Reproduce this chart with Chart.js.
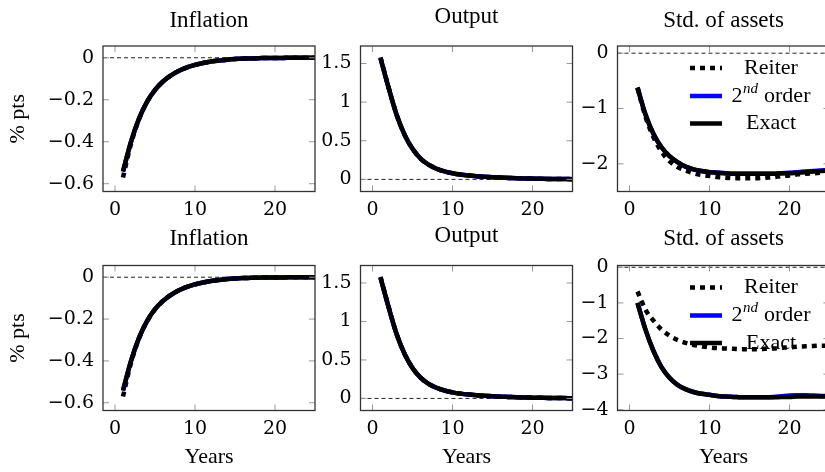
<!DOCTYPE html>
<html>
<head>
<meta charset="utf-8">
<script src="https://cdn.jsdelivr.net/npm/chart.js@4"></script>
<style>
html, body { margin: 0; padding: 0; background: #fff; width: 825px; height: 472px; overflow: hidden; }
canvas { position: absolute; }
</style>
</head>
<body>
<canvas id="c0" width="318" height="225" style="left:0;top:0"></canvas>
<canvas id="c1" width="257" height="225" style="left:318px;top:0"></canvas>
<canvas id="c2" width="260" height="225" style="left:575px;top:0"></canvas>
<canvas id="c3" width="318" height="254" style="left:0;top:218px"></canvas>
<canvas id="c4" width="257" height="254" style="left:318px;top:218px"></canvas>
<canvas id="c5" width="260" height="254" style="left:575px;top:218px"></canvas>
<script>
// horizon in years
const years = [1, 2, 3, 4, 5, 6, 7, 8, 9, 10, 11, 12, 13, 14, 15, 16, 17, 18, 19, 20, 21, 22, 23, 24, 25];
const xTicks = [0, 10, 20];

const inflationReiter = [-0.57, -0.41, -0.293, -0.211, -0.154, -0.113, -0.084, -0.062, -0.046, -0.034, -0.025, -0.018, -0.013, -0.009, -0.006, -0.004, -0.003, -0.002, -0.001, -0.001, -0.001, 0, 0, 0, 0];
const inflationSecond = [-0.543, -0.401, -0.29, -0.21, -0.153, -0.113, -0.084, -0.062, -0.046, -0.034, -0.025, -0.018, -0.013, -0.009, -0.006, -0.004, -0.003, -0.002, -0.001, -0.001, -0.001, 0, 0, 0, 0];
const inflationExact = [-0.54, -0.40, -0.29, -0.21, -0.153, -0.113, -0.084, -0.062, -0.046, -0.034, -0.025, -0.018, -0.013, -0.009, -0.006, -0.004, -0.003, -0.002, -0.001, -0.001, -0.001, 0, 0, 0, 0];
const inflationTicks = [0, -0.2, -0.4, -0.6];

const outputReiter = [1.58, 1.195, 0.842, 0.58, 0.395, 0.27, 0.19, 0.138, 0.103, 0.079, 0.062, 0.05, 0.041, 0.034, 0.028, 0.023, 0.019, 0.015, 0.012, 0.01, 0.008, 0.006, 0.005, 0.004, 0.003];
const outputSecond = [1.57, 1.19, 0.84, 0.58, 0.395, 0.27, 0.19, 0.138, 0.103, 0.079, 0.062, 0.05, 0.041, 0.034, 0.028, 0.023, 0.019, 0.015, 0.012, 0.01, 0.008, 0.006, 0.005, 0.004, 0.003];
const outputExact = [1.57, 1.19, 0.84, 0.58, 0.395, 0.27, 0.19, 0.138, 0.103, 0.079, 0.062, 0.05, 0.041, 0.034, 0.028, 0.023, 0.019, 0.015, 0.012, 0.01, 0.008, 0.006, 0.005, 0.004, 0.003];
const outputTicks = [0, 0.5, 1, 1.5];

const assetsReiterTop = [-0.63, -1.15, -1.52, -1.78, -1.95, -2.06, -2.12, -2.17, -2.2, -2.22, -2.24, -2.25, -2.26, -2.26, -2.26, -2.26, -2.25, -2.24, -2.22, -2.21, -2.19, -2.18, -2.17, -2.16, -2.15];
const assetsSecondTop = [-0.62, -1.11, -1.46, -1.7, -1.86, -1.97, -2.05, -2.1, -2.13, -2.15, -2.16, -2.17, -2.18, -2.18, -2.18, -2.18, -2.18, -2.18, -2.17, -2.16, -2.15, -2.14, -2.13, -2.12, -2.11];
const assetsExactTop = [-0.62, -1.11, -1.46, -1.7, -1.86, -1.97, -2.05, -2.1, -2.13, -2.15, -2.16, -2.17, -2.18, -2.18, -2.18, -2.18, -2.18, -2.18, -2.17, -2.17, -2.16, -2.15, -2.14, -2.13, -2.12];
const assetsTicksTop = [0, -1, -2];

const assetsReiterBottom = [-0.68, -1.19, -1.5, -1.75, -1.92, -2.04, -2.12, -2.18, -2.22, -2.25, -2.27, -2.28, -2.29, -2.3, -2.3, -2.3, -2.29, -2.28, -2.26, -2.25, -2.23, -2.22, -2.21, -2.2, -2.2];
const assetsSecondBottom = [-1.0, -1.75, -2.35, -2.8, -3.1, -3.3, -3.42, -3.5, -3.55, -3.58, -3.61, -3.63, -3.64, -3.65, -3.65, -3.65, -3.65, -3.64, -3.62, -3.6, -3.59, -3.59, -3.6, -3.61, -3.62];
const assetsExactBottom = [-1.0, -1.75, -2.35, -2.8, -3.1, -3.3, -3.42, -3.5, -3.55, -3.58, -3.61, -3.63, -3.64, -3.65, -3.65, -3.65, -3.65, -3.65, -3.64, -3.64, -3.63, -3.63, -3.63, -3.63, -3.63];
const assetsTicksBottom = [0, -1, -2, -3, -4];

const seriesNames = ['Reiter', '2nd order', 'Exact'];

const serif = 'Liberation Serif';
const tickFont = { family: 'DejaVu Serif', size: 19 };

// zero reference line under the data, inward ticks, a box around the plot and the panel title
const framePlugin = {
    id: 'frame',
    beforeDatasetsDraw(chart) {
        const { ctx, chartArea: a, scales: { y } } = chart;
        const y0 = y.getPixelForValue(0);
        ctx.save();
        ctx.strokeStyle = '#222';
        ctx.lineWidth = 1;
        ctx.setLineDash([4, 3]);
        ctx.beginPath();
        ctx.moveTo(a.left, y0);
        ctx.lineTo(a.right, y0);
        ctx.stroke();
        ctx.restore();
    },
    afterDatasetsDraw(chart, args, opts) {
        const { ctx, chartArea: a, scales: { x, y } } = chart;
        ctx.save();
        ctx.strokeStyle = '#999';
        ctx.lineWidth = 1;
        ctx.beginPath();
        x.ticks.forEach(t => {
            const px = x.getPixelForValue(t.value);
            ctx.moveTo(px, a.bottom); ctx.lineTo(px, a.bottom - 6);
            ctx.moveTo(px, a.top); ctx.lineTo(px, a.top + 6);
        });
        y.ticks.forEach(t => {
            const py = y.getPixelForValue(t.value);
            ctx.moveTo(a.left, py); ctx.lineTo(a.left + 6, py);
            ctx.moveTo(a.right, py); ctx.lineTo(a.right - 6, py);
        });
        ctx.stroke();
        ctx.strokeStyle = '#333';
        ctx.lineWidth = 1.3;
        ctx.strokeRect(a.left, a.top, a.right - a.left, a.bottom - a.top);

        ctx.fillStyle = '#000';
        ctx.font = '23px ' + serif;
        ctx.textAlign = 'center';
        ctx.textBaseline = 'alphabetic';
        ctx.fillText(opts.text, (a.left + a.right) / 2, opts.baseline);
        ctx.restore();
    }
};

// legend in the pgfplots style, with a superscript in "2nd order"
const legendPlugin = {
    id: 'pgfLegend',
    afterDraw(chart) {
        const { ctx, chartArea: a } = chart;
        const rows = [22, 50, 77.5];
        ctx.save();
        chart.data.datasets.forEach((ds, i) => {
            const ry = a.top + rows[i];
            ctx.strokeStyle = ds.borderColor;
            ctx.lineWidth = ds.borderWidth;
            ctx.setLineDash(ds.borderDash || []);
            ctx.beginPath();
            ctx.moveTo(a.right - 139.5, ry);
            ctx.lineTo(a.right - 107.5, ry);
            ctx.stroke();
            ctx.setLineDash([]);
            ctx.fillStyle = '#000';
            ctx.textBaseline = 'middle';
            const cx = a.right - 58.5;
            if (ds.label === '2nd order') {
                ctx.font = '22px ' + serif;
                const w1 = ctx.measureText('2').width;
                const w3 = ctx.measureText(' order').width;
                ctx.font = 'italic 15px ' + serif;
                const w2 = ctx.measureText('nd').width + 1;
                const sx = cx - (w1 + w2 + w3) / 2;
                ctx.textAlign = 'left';
                ctx.font = '22px ' + serif;
                ctx.fillText('2', sx, ry);
                ctx.font = 'italic 15px ' + serif;
                ctx.fillText('nd', sx + w1 + 0.5, ry - 7);
                ctx.font = '22px ' + serif;
                ctx.fillText(' order', sx + w1 + w2, ry);
            } else {
                ctx.font = '22px ' + serif;
                ctx.textAlign = 'center';
                ctx.fillText(ds.label, cx, ry);
            }
        });
        ctx.restore();
    }
};

function fmt(v) {
    return v < 0 ? '\u2212' + String(-v) : String(v);
}

function makeChart(id, p) {
    const lines = [p.reiter, p.second, p.exact];
    const styles = [
        { borderColor: '#000', borderWidth: 4.5, borderDash: [5, 5], order: 3 },
        { borderColor: '#0000ff', borderWidth: 4.5, order: 2 },
        { borderColor: '#000', borderWidth: 4.5, order: 1 }
    ];
    const datasets = lines.map((vals, i) => Object.assign({
        label: seriesNames[i],
        data: years.map((yr, k) => ({ x: yr, y: vals[k] })),
        pointRadius: 0,
        cubicInterpolationMode: 'monotone',
        fill: false
    }, styles[i]));

    return new Chart(document.getElementById(id), {
        type: 'line',
        data: { datasets: datasets },
        options: {
            responsive: false,
            animation: false,
            layout: { padding: { left: 0, right: p.padRight, top: p.areaTop, bottom: 0 } },
            plugins: {
                legend: { display: false },
                tooltip: { enabled: false },
                frame: { text: p.title, baseline: p.titleBaseline }
            },
            scales: {
                x: {
                    type: 'linear',
                    min: -1.5,
                    max: 25,
                    grid: { display: false, drawTicks: false },
                    border: { display: false },
                    afterBuildTicks: s => { s.ticks = xTicks.map(v => ({ value: v })); },
                    afterFit: s => { s.height = p.xHeight; s.paddingLeft = 0; s.paddingRight = 0; },
                    ticks: { color: '#000', font: tickFont, padding: 7, maxRotation: 0, callback: fmt },
                    title: {
                        display: p.xTitle,
                        text: 'Years',
                        color: '#000',
                        font: { family: serif, size: 22 },
                        padding: { top: 0, bottom: 1.8 }
                    }
                },
                y: {
                    min: p.yMin,
                    max: p.yMax,
                    grid: { display: false, drawTicks: false },
                    border: { display: false },
                    afterBuildTicks: s => { s.ticks = p.yTicks.map(v => ({ value: v })); },
                    afterFit: s => { s.width = p.yWidth; s.paddingTop = 0; s.paddingBottom = 0; },
                    ticks: { color: '#000', font: tickFont, padding: 9, callback: fmt },
                    title: {
                        display: p.yTitle,
                        text: '% pts',
                        color: '#000',
                        font: { family: serif, size: 22 },
                        padding: { top: 5, bottom: 0 }
                    }
                }
            }
        },
        plugins: p.legend ? [framePlugin, legendPlugin] : [framePlugin]
    });
}

const topRow = { areaTop: 46, titleBaseline: 26.5, xHeight: 33.5, xTitle: false };
const bottomRow = { areaTop: 47.5, titleBaseline: 27, xHeight: 61.5, xTitle: true };
const col0 = { yWidth: 103, padRight: 3, yTitle: true, legend: false };
const col1 = { yWidth: 42.5, padRight: 2.5, yTitle: false, legend: false };
const col2 = { yWidth: 42.5, padRight: 5.5, yTitle: false, legend: true };

makeChart('c0', Object.assign({}, topRow, col0, {
    title: 'Inflation', reiter: inflationReiter, second: inflationSecond, exact: inflationExact,
    yMin: -0.637, yMax: 0.056, yTicks: inflationTicks
}));
makeChart('c1', Object.assign({}, topRow, col1, {
    title: 'Output', reiter: outputReiter, second: outputSecond, exact: outputExact,
    yMin: -0.157, yMax: 1.727, yTicks: outputTicks, titleBaseline: 23
}));
makeChart('c2', Object.assign({}, topRow, col2, {
    title: 'Std. of assets', reiter: assetsReiterTop, second: assetsSecondTop, exact: assetsExactTop,
    yMin: -2.5, yMax: 0.13, yTicks: assetsTicksTop
}));
makeChart('c3', Object.assign({}, bottomRow, col0, {
    title: 'Inflation', reiter: inflationReiter, second: inflationSecond, exact: inflationExact,
    yMin: -0.637, yMax: 0.056, yTicks: inflationTicks
}));
makeChart('c4', Object.assign({}, bottomRow, col1, {
    title: 'Output', reiter: outputReiter, second: outputSecond, exact: outputExact,
    yMin: -0.157, yMax: 1.727, yTicks: outputTicks, titleBaseline: 23.5
}));
makeChart('c5', Object.assign({}, bottomRow, col2, {
    title: 'Std. of assets', reiter: assetsReiterBottom, second: assetsSecondBottom, exact: assetsExactBottom,
    yMin: -4.02, yMax: 0.05, yTicks: assetsTicksBottom
}));
</script>
</body>
</html>
